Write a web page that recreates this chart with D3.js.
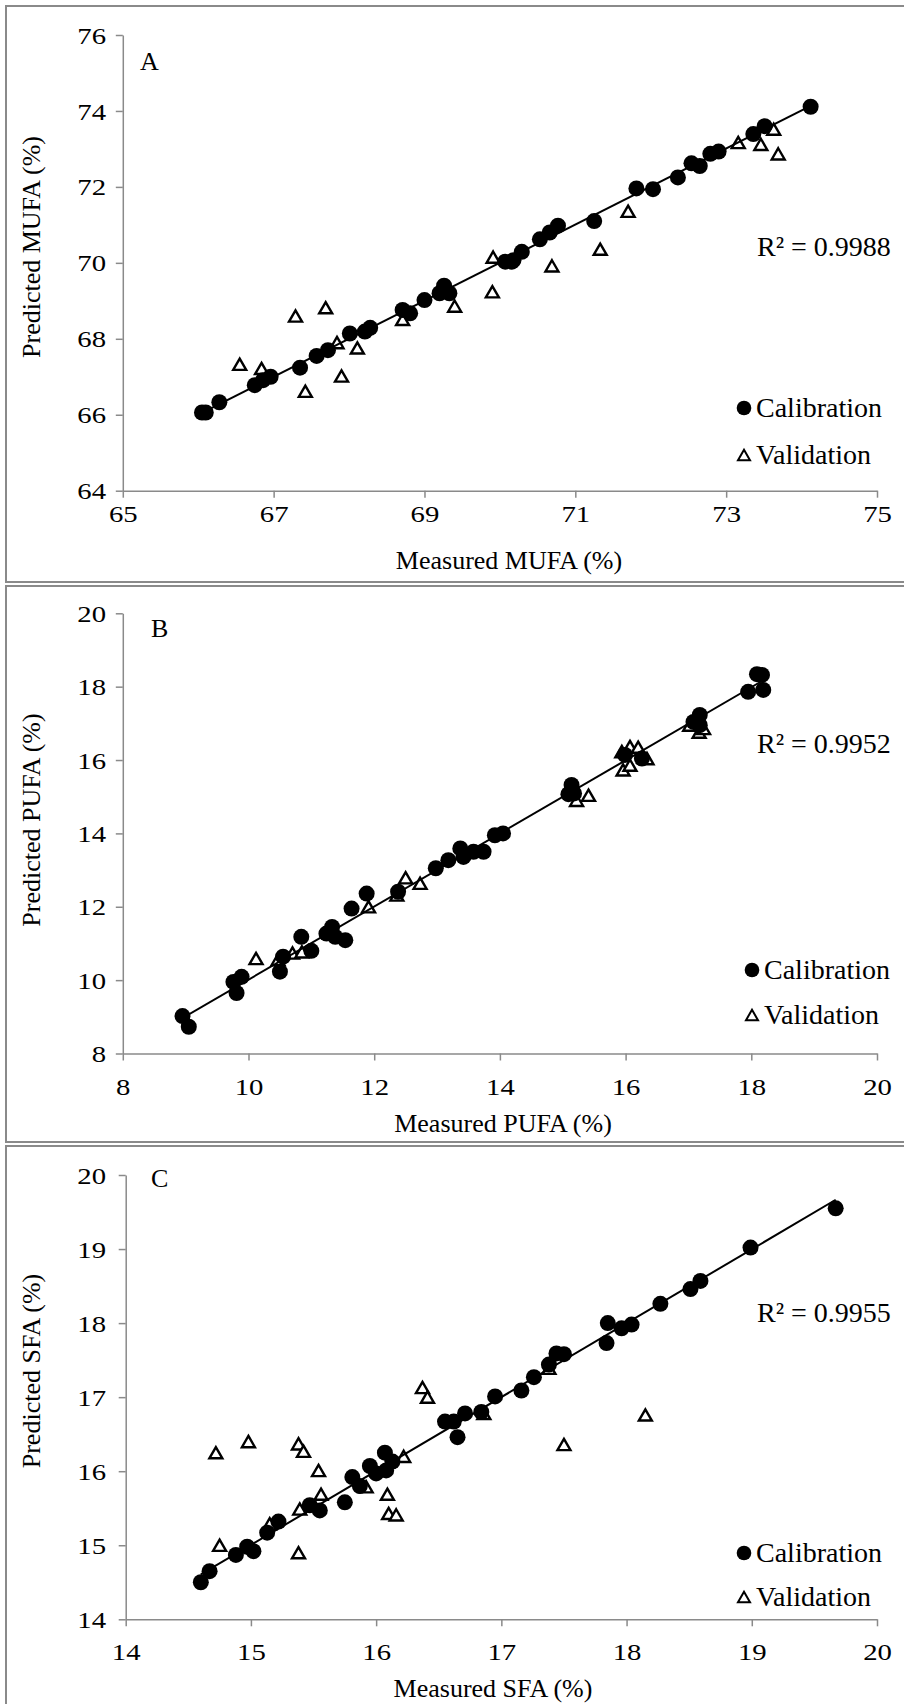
<!DOCTYPE html>
<html>
<head>
<meta charset="utf-8">
<script src="https://cdn.jsdelivr.net/npm/d3@7"></script>
<style>
body { margin: 0; background: #fff; }
svg { display: block; }
text { font-family: "Liberation Serif", "Times New Roman", serif; fill: #000; }
</style>
</head>
<body>
<svg id="chart" width="904" height="1704"></svg>
<script>
// measured vs predicted
var mufaCal = [[66.05,66.06],[66.1,66.06],[66.28,66.33],[66.75,66.78],[66.86,66.91],[66.96,67.0],[67.35,67.24],[67.57,67.55],[67.72,67.7],[68.01,68.14],[68.21,68.19],[68.28,68.29],[68.71,68.76],[68.81,68.67],[69.0,69.02],[69.2,69.2],[69.26,69.4],[69.33,69.2],[70.07,70.03],[70.16,70.03],[70.18,70.07],[70.29,70.29],[70.53,70.62],[70.66,70.8],[70.77,70.98],[71.25,71.1],[71.81,71.96],[72.03,71.94],[72.36,72.25],[72.54,72.62],[72.65,72.55],[72.79,72.87],[72.9,72.93],[73.36,73.39],[73.51,73.6],[74.12,74.11]];
var mufaVal = [[66.55,67.33],[66.84,67.22],[67.29,68.6],[67.69,68.82],[67.84,67.9],[68.11,67.76],[67.9,67.02],[67.42,66.62],[68.71,68.51],[69.4,68.86],[69.9,69.24],[69.91,70.15],[70.69,69.92],[71.33,70.36],[71.7,71.36],[73.16,73.17],[73.46,73.12],[73.63,73.52],[73.69,72.87]];

var pufaCal = [[8.95,9.02],[9.05,8.73],[9.76,9.95],[9.81,9.65],[9.89,10.09],[10.5,10.23],[10.55,10.64],[10.84,11.18],[11.0,10.8],[11.24,11.27],[11.33,11.45],[11.38,11.18],[11.54,11.09],[11.64,11.95],[11.88,12.36],[12.38,12.41],[12.98,13.05],[13.18,13.27],[13.37,13.59],[13.42,13.36],[13.58,13.5],[13.74,13.5],[13.92,13.95],[14.05,14.0],[15.09,15.07],[15.14,15.32],[15.18,15.09],[15.99,16.14],[16.26,16.04],[17.08,17.04],[17.18,17.23],[17.18,16.95],[17.95,17.86],[18.09,18.34],[18.17,18.32],[18.19,17.91]];
var pufaVal = [[10.12,10.59],[10.47,10.56],[10.7,10.74],[10.85,10.77],[11.91,12.0],[12.36,12.32],[12.5,12.79],[12.73,12.64],[15.22,14.9],[15.41,15.04],[15.96,15.73],[16.07,15.86],[15.94,16.23],[16.07,16.37],[16.2,16.35],[16.34,16.04],[17.02,16.95],[17.17,16.76],[17.24,16.86]];

var sfaCal = [[14.6,14.5],[14.67,14.65],[14.88,14.87],[14.97,14.98],[15.02,14.92],[15.13,15.17],[15.22,15.32],[15.47,15.54],[15.55,15.47],[15.75,15.58],[15.81,15.92],[15.87,15.8],[15.95,16.07],[16.0,15.97],[16.07,16.25],[16.08,16.01],[16.13,16.13],[16.55,16.67],[16.62,16.67],[16.65,16.46],[16.71,16.78],[16.84,16.8],[16.95,17.01],[17.16,17.09],[17.26,17.27],[17.38,17.44],[17.44,17.59],[17.5,17.58],[17.84,17.73],[17.85,18.0],[17.96,17.93],[18.04,17.98],[18.27,18.26],[18.51,18.46],[18.59,18.57],[18.99,19.02],[19.67,19.55]];
var sfaVal = [[14.72,16.25],[14.98,16.4],[15.38,16.37],[15.42,16.27],[15.54,16.01],[15.56,15.69],[15.39,15.49],[15.15,15.29],[14.75,15.0],[15.38,14.9],[15.92,15.79],[16.09,15.69],[16.1,15.43],[16.16,15.41],[16.22,16.2],[16.37,17.13],[16.41,17.0],[16.86,16.78],[17.38,17.39],[17.5,16.36],[18.15,16.76]];

var mufaXTicks = [65, 67, 69, 71, 73, 75];
var mufaYTicks = [64, 66, 68, 70, 72, 74, 76];
var pufaTicks = [8, 10, 12, 14, 16, 18, 20];
var sfaTicks = [14, 15, 16, 17, 18, 19, 20];

var panelLetters = ["A", "B", "C"];
var r2Labels = ["R\u00b2 = 0.9988", "R\u00b2 = 0.9952", "R\u00b2 = 0.9955"];
var xTitles = ["Measured MUFA (%)", "Measured PUFA (%)", "Measured SFA (%)"];
var yTitles = ["Predicted MUFA (%)", "Predicted PUFA (%)", "Predicted SFA (%)"];
var legendNames = ["Calibration", "Validation"];

// layout of the three stacked panels
var panels = [
  {cal: mufaCal, val: mufaVal, xt: mufaXTicks, yt: mufaYTicks,
   xr: [122.8, 877], yr: [490.7, 35], frame: [6, 582],
   letter: [140, 70], r2: [757, 256], leg: [744, 408, 455], yTitle: 247, xTitle: [509, 569], xPad: 31},
  {cal: pufaCal, val: pufaVal, xt: pufaTicks, yt: pufaTicks,
   xr: [122.8, 877], yr: [1053.5, 613.3], frame: [586, 1142],
   letter: [151, 637], r2: [757, 753], leg: [752, 970, 1015], yTitle: 820, xTitle: [503, 1132], xPad: 41},
  {cal: sfaCal, val: sfaVal, xt: sfaTicks, yt: sfaTicks,
   xr: [125.7, 877], yr: [1619.3, 1175], frame: [1146, 1730],
   letter: [151, 1187], r2: [757, 1322], leg: [744, 1553, 1597], yTitle: 1371, xTitle: [493, 1697], xPad: 41}
];

var svg = d3.select("#chart");
var grey = "#8a8a8a";

function triangle(s) {
  var h = s * 0.866;
  return "M0," + (-h / 2) + "L" + (s / 2) + "," + (h / 2) + "L" + (-s / 2) + "," + (h / 2) + "Z";
}

function fit(pts) {
  var mx = d3.mean(pts, function(d) { return d[0]; });
  var my = d3.mean(pts, function(d) { return d[1]; });
  var sxy = d3.sum(pts, function(d) { return (d[0] - mx) * (d[1] - my); });
  var sxx = d3.sum(pts, function(d) { return (d[0] - mx) * (d[0] - mx); });
  var b = sxy / sxx;
  return [b, my - b * mx];
}

panels.forEach(function(p, i) {
  var g = svg.append("g");

  g.append("rect")
    .attr("x", 6).attr("y", p.frame[0])
    .attr("width", 1000).attr("height", p.frame[1] - p.frame[0])
    .attr("fill", "none").attr("stroke", grey).attr("stroke-width", 2);

  var x = d3.scaleLinear().domain(d3.extent(p.xt)).range(p.xr);
  var y = d3.scaleLinear().domain(d3.extent(p.yt)).range(p.yr);

  var xAxis = g.append("g")
    .attr("transform", "translate(0," + p.yr[0] + ")")
    .call(d3.axisBottom(x).tickValues(p.xt).tickFormat(d3.format("d")).tickSize(7).tickSizeOuter(0));
  var yAxis = g.append("g")
    .attr("transform", "translate(" + p.xr[0] + ",0)")
    .call(d3.axisLeft(y).tickValues(p.yt).tickFormat(d3.format("d")).tickSize(7).tickSizeOuter(0));

  [xAxis, yAxis].forEach(function(a) {
    a.select(".domain").attr("stroke", grey).attr("stroke-width", 1.5);
    a.selectAll(".tick line").attr("stroke", grey).attr("stroke-width", 1.5);
    a.selectAll(".tick text").style("font-family", "'Liberation Serif', 'Times New Roman', serif")
      .style("font-size", "23px").attr("fill", "#000");
  });
  xAxis.selectAll(".tick text")
    .attr("dy", null).attr("y", 0)
    .attr("transform", "translate(0," + p.xPad + ") scale(1.25,1)");
  yAxis.selectAll(".tick text")
    .attr("x", 0).attr("dy", "0.35em")
    .attr("transform", "translate(" + (106 - p.xr[0]) + ",0) scale(1.25,1)");

  // validation underneath, calibration on top
  g.selectAll("path.val").data(p.val).enter()
    .append("path").attr("class", "val")
    .attr("d", triangle(13))
    .attr("transform", function(d) { return "translate(" + x(d[0]) + "," + y(d[1]) + ")"; })
    .attr("fill", "#fff").attr("stroke", "#000").attr("stroke-width", 2.4);

  g.selectAll("circle.cal").data(p.cal).enter()
    .append("circle").attr("class", "cal")
    .attr("cx", function(d) { return x(d[0]); })
    .attr("cy", function(d) { return y(d[1]); })
    .attr("r", 8).attr("fill", "#000");

  var f = fit(p.cal);
  var ext = d3.extent(p.cal, function(d) { return d[0]; });
  g.append("line")
    .attr("x1", x(ext[0])).attr("y1", y(f[0] * ext[0] + f[1]))
    .attr("x2", x(ext[1])).attr("y2", y(f[0] * ext[1] + f[1]))
    .attr("stroke", "#000").attr("stroke-width", 2);

  g.append("text").attr("x", p.letter[0]).attr("y", p.letter[1])
    .style("font-size", "26px").text(panelLetters[i]);

  g.append("text").attr("x", p.r2[0]).attr("y", p.r2[1])
    .style("font-size", "28px").text(r2Labels[i]);

  // legend
  g.append("circle").attr("cx", p.leg[0]).attr("cy", p.leg[1]).attr("r", 7.3).attr("fill", "#000");
  g.append("text").attr("x", p.leg[0] + 12).attr("y", p.leg[1] + 9)
    .style("font-size", "28px").text(legendNames[0]);
  g.append("path").attr("d", triangle(12))
    .attr("transform", "translate(" + p.leg[0] + "," + p.leg[2] + ")")
    .attr("fill", "#fff").attr("stroke", "#000").attr("stroke-width", 2);
  g.append("text").attr("x", p.leg[0] + 12).attr("y", p.leg[2] + 9)
    .style("font-size", "28px").text(legendNames[1]);

  g.append("text").attr("x", p.xTitle[0]).attr("y", p.xTitle[1])
    .attr("text-anchor", "middle").style("font-size", "26px").text(xTitles[i]);

  g.append("text")
    .attr("transform", "translate(40," + p.yTitle + ") rotate(-90)")
    .attr("text-anchor", "middle").style("font-size", "26px").text(yTitles[i]);
});
</script>
</body>
</html>
